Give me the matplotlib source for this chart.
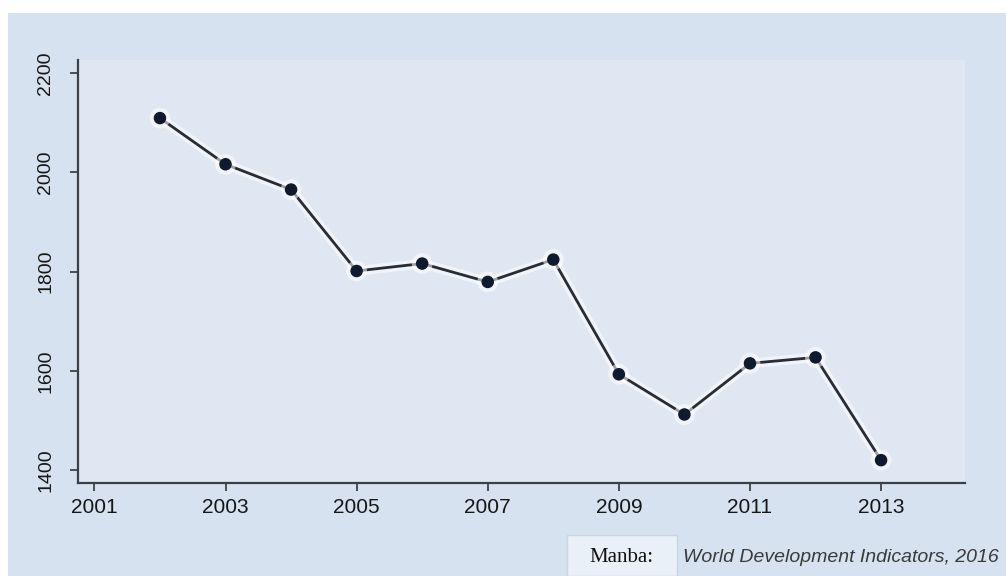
"""
Line chart: yearly values 2002-2013 (World Development Indicators, 2016)
"""

import matplotlib
matplotlib.use("Agg")
import matplotlib.pyplot as plt
import matplotlib.patheffects as pe
from matplotlib.patches import Rectangle

# data
years = [2002, 2003, 2004, 2005, 2006, 2007, 2008, 2009, 2010, 2011, 2012, 2013]
values = [2109, 2016, 1965, 1801, 1816, 1779, 1824, 1593, 1512, 1615, 1627, 1420]
x_ticks = [2001, 2003, 2005, 2007, 2009, 2011, 2013]
y_ticks = [1400, 1600, 1800, 2000, 2200]
source_label = "Manba:"
source_text = "World Development Indicators, 2016"

plt.rcParams['font.family'] = ['Liberation Sans', 'DejaVu Sans']

W, H = 1006, 576
fig = plt.figure(figsize=(W / 100, H / 100), dpi=100, facecolor="white")

# scanned page background (behind the axes)
fig.patches.append(Rectangle((8 / W, 0), 1 - 8 / W, 1 - 13 / H,
                             transform=fig.transFigure, facecolor="#d7e2f0",
                             edgecolor="none", zorder=-1))

ax = fig.add_axes([78 / W, 1 - 483 / H, (965 - 78) / W, (483 - 60) / H])
ax.set_facecolor("#dfe7f3")

halo = [pe.Stroke(linewidth=7, foreground="white", alpha=0.55), pe.Normal()]
ax.plot(years, values, color="#262c38", linewidth=2, marker="o",
        markersize=8, markerfacecolor="#101a2e", markeredgecolor="#101a2e",
        path_effects=halo, zorder=3)

ax.set_xlim(2000.75, 2014.28)
ax.set_ylim(1374, 2226)
ax.set_xticks(x_ticks)
ax.set_yticks(y_ticks)
ax.tick_params(axis="x", direction="out", length=6, width=1.2, pad=5,
               labelsize=15, colors="#333333", labelcolor="#161616")
ax.tick_params(axis="y", direction="out", length=6, width=1.2, pad=11,
               labelsize=14, colors="#333333", labelcolor="#161616")
for lbl in ax.get_yticklabels():
    lbl.set_rotation(90)
    lbl.set_va("center")

for side in ["top", "right"]:
    ax.spines[side].set_visible(False)
for side in ["left", "bottom"]:
    ax.spines[side].set_color("#3a3f48")
    ax.spines[side].set_linewidth(1.6)

# source box at the bottom
fig.patches.append(Rectangle((567 / W, 0), 110 / W, 41 / H,
                             transform=fig.transFigure, facecolor="#eaf0f8",
                             edgecolor="#c9d5e6", linewidth=1, zorder=1))
fig.text(621 / W, 1 - 558 / H, source_label, ha="center", va="center",
         fontsize=15, family="Liberation Serif", color="#111111", zorder=2)
fig.text(683 / W, 1 - 558 / H, source_text, ha="left", va="center",
         fontsize=14, style="italic", color="#3a3a3a", zorder=2)

fig.savefig("out.png", dpi=100, facecolor="white")
